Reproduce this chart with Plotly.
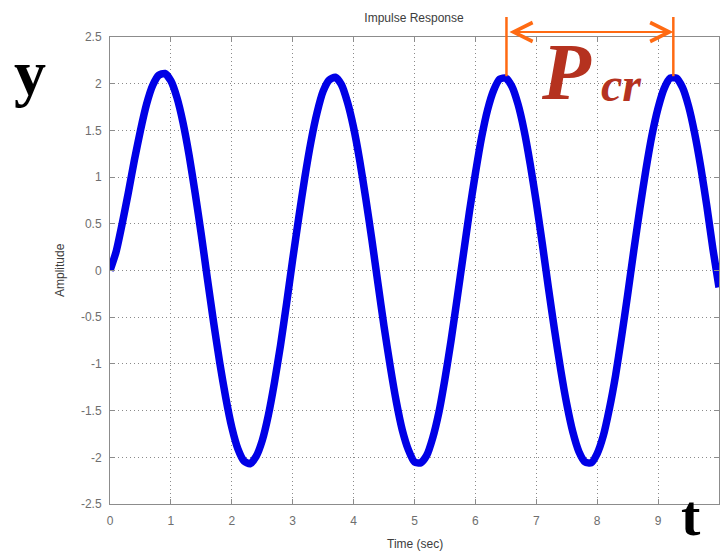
import plotly.graph_objects as go

# ---------------- data ----------------
time_s = [0.0, 0.1, 0.2, 0.3, 0.4, 0.5, 0.6, 0.7, 0.8, 0.9,
          1.0, 1.1, 1.2, 1.3, 1.4, 1.5, 1.6, 1.7, 1.8, 1.9,
          2.0, 2.1, 2.2, 2.3, 2.4, 2.5, 2.6, 2.7, 2.8, 2.9,
          3.0, 3.1, 3.2, 3.3, 3.4, 3.5, 3.6, 3.7, 3.8, 3.9,
          4.0, 4.1, 4.2, 4.3, 4.4, 4.5, 4.6, 4.7, 4.8, 4.9,
          5.0, 5.1, 5.2, 5.3, 5.4, 5.5, 5.6, 5.7, 5.8, 5.9,
          6.0, 6.1, 6.2, 6.3, 6.4, 6.5, 6.6, 6.7, 6.8, 6.9,
          7.0, 7.1, 7.2, 7.3, 7.4, 7.5, 7.6, 7.7, 7.8, 7.9,
          8.0, 8.1, 8.2, 8.3, 8.4, 8.5, 8.6, 8.7, 8.8, 8.9,
          9.0, 9.1, 9.2, 9.3, 9.4, 9.5, 9.6, 9.7, 9.8, 9.9,
          10.0]

amplitude = [0.00, 0.20, 0.50, 0.83, 1.18, 1.50, 1.78, 1.98, 2.09, 2.11,
             2.03, 1.85, 1.58, 1.23, 0.82, 0.38, -0.09, -0.55, -0.98, -1.36,
             -1.68, -1.91, -2.04, -2.07, -1.99, -1.82, -1.55, -1.20, -0.80, -0.35,
             0.12, 0.57, 1.00, 1.38, 1.69, 1.92, 2.04, 2.07, 1.99, 1.80,
             1.53, 1.18, 0.77, 0.33, -0.14, -0.60, -1.02, -1.40, -1.71, -1.92,
             -2.05, -2.06, -1.98, -1.79, -1.52, -1.16, -0.75, -0.30, 0.16, 0.62,
             1.04, 1.42, 1.72, 1.93, 2.05, 2.06, 1.97, 1.78, 1.50, 1.14,
             0.73, 0.28, -0.19, -0.64, -1.06, -1.43, -1.73, -1.94, -2.05, -2.06,
             -1.96, -1.77, -1.48, -1.13, -0.71, -0.26, 0.21, 0.66, 1.08, 1.45,
             1.74, 1.95, 2.06, 2.06, 1.96, 1.76, 1.47, 1.11, 0.69, 0.23,
             -0.18]

x_tick_vals = [0, 1, 2, 3, 4, 5, 6, 7, 8, 9, 10]
x_tick_text = ["0", "1", "2", "3", "4", "5", "6", "7", "8", "9", "10"]
y_tick_vals = [-2.5, -2, -1.5, -1, -0.5, 0, 0.5, 1, 1.5, 2, 2.5]
y_tick_text = ["-2.5", "-2", "-1.5", "-1", "-0.5", "0", "0.5", "1", "1.5", "2", "2.5"]

# critical period markers (peak times, peak value)
pcr_peak_times = [6.51, 9.25]
pcr_peak_value = 2.08

x_range = [0, 10]
y_range = [-2.5, 2.5]

# ---------------- layout geometry ----------------
W, H = 724, 552
ML, MR, MT, MB = 110, 5, 37, 48
PW, PH = W - ML - MR, H - MT - MB


def px_x(px):
    return (px - ML) / PW


def px_y(py):
    return (H - MB - py) / PH


def data_to_paper_x(t):
    return (t - x_range[0]) / (x_range[1] - x_range[0])


def data_to_paper_y(v):
    return (v - y_range[0]) / (y_range[1] - y_range[0])


GRAY_AX = "#8c8c8c"
GRID = "#8a8a8a"
TICKFONT = dict(family="Liberation Sans, Arial, sans-serif", size=12, color="#6e6e6e")
ORANGE = "#ff6a12"
RED = "#b5321f"

fig = go.Figure()
fig.add_trace(go.Scatter(
    x=time_s, y=amplitude, mode="lines",
    line=dict(color="#0000e6", width=7.5, shape="spline", smoothing=0.6),
    showlegend=False, hoverinfo="skip",
))

axis_common = dict(
    showline=True, linecolor=GRAY_AX, linewidth=1, mirror="ticks",
    ticks="inside", ticklen=5, tickcolor=GRAY_AX, tickwidth=1,
    showgrid=True, gridcolor=GRID, griddash="1px,3px", gridwidth=1,
    zeroline=False, tickfont=TICKFONT, fixedrange=True,
)

fig.update_layout(
    width=W, height=H,
    margin=dict(l=ML, r=MR, t=MT, b=MB, autoexpand=False),
    paper_bgcolor="white", plot_bgcolor="white",
    title=dict(text="Impulse Response", x=414 / W, xanchor="center",
               y=1 - 18 / H, yanchor="middle", yref="container", xref="container",
               font=dict(family="Liberation Sans, Arial, sans-serif", size=12, color="#3c3c3c")),
    xaxis=dict(range=x_range, tickvals=x_tick_vals, ticktext=x_tick_text,
               ticklabelstandoff=6, **axis_common),
    yaxis=dict(range=y_range, tickvals=y_tick_vals, ticktext=y_tick_text,
               ticklabelstandoff=5, **axis_common),
)

annotations = [
    dict(text="Time (sec)", xref="paper", yref="paper", x=0.5, y=px_y(544),
         xanchor="center", yanchor="middle", showarrow=False,
         font=dict(family="Liberation Sans, Arial, sans-serif", size=12, color="#3c3c3c")),
    dict(text="Amplitude", xref="paper", yref="paper", x=px_x(60), y=px_y(270),
         xanchor="center", yanchor="middle", textangle=-90, showarrow=False,
         font=dict(family="Liberation Sans, Arial, sans-serif", size=12, color="#3c3c3c")),
    dict(text="<b>y</b>", xref="paper", yref="paper", x=px_x(30), y=px_y(72),
         xanchor="center", yanchor="middle", showarrow=False,
         font=dict(family="Liberation Serif, Times New Roman, serif", size=64, color="black")),
    dict(text="<b>t</b>", xref="paper", yref="paper", x=px_x(691), y=px_y(515),
         xanchor="center", yanchor="middle", showarrow=False,
         font=dict(family="Liberation Serif, Times New Roman, serif", size=58, color="black")),
    dict(text="<b><i>P</i></b>", xref="paper", yref="paper", x=px_x(566), y=px_y(72),
         xanchor="center", yanchor="middle", showarrow=False,
         font=dict(family="Liberation Serif, Times New Roman, serif", size=80, color=RED)),
    dict(text="<b><i>cr</i></b>", xref="paper", yref="paper", x=px_x(621), y=px_y(84),
         xanchor="center", yanchor="middle", showarrow=False,
         font=dict(family="Liberation Serif, Times New Roman, serif", size=48, color=RED)),
    # double-headed period arrow
    dict(text=" ", x=pcr_peak_times[1], xref="x", y=px_y(32), yref="paper",
         ax=pcr_peak_times[0], axref="x", ay=0, ayref="pixel",
         showarrow=True, arrowside="end+start", arrowhead=5, startarrowhead=5,
         arrowsize=1.7, startarrowsize=1.7, arrowwidth=2.2, arrowcolor=ORANGE,
         standoff=0, startstandoff=0),
]
fig.update_layout(annotations=annotations)

shapes = []
for tp in pcr_peak_times:
    shapes.append(dict(type="line", xref="paper", yref="paper",
                       x0=data_to_paper_x(tp), x1=data_to_paper_x(tp),
                       y0=data_to_paper_y(pcr_peak_value), y1=px_y(17),
                       line=dict(color=ORANGE, width=2.5), layer="above"))
fig.update_layout(shapes=shapes)

fig.write_html("out.html")
